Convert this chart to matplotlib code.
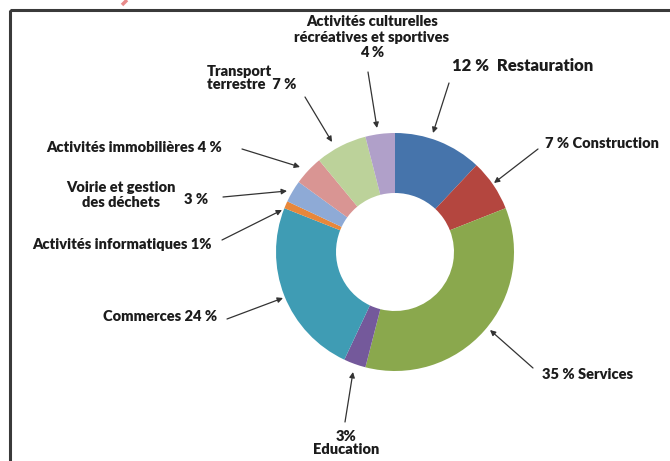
import matplotlib
matplotlib.use("Agg")
import matplotlib.pyplot as plt
from matplotlib.patches import Rectangle

plt.rcParams['font.family'] = ['Lato', 'DejaVu Sans']

# sectors, clockwise from 12 o'clock
sectors = ['Restauration', 'Construction', 'Services', 'Education', 'Commerces',
           'Activités informatiques', 'Voirie et gestion des déchets',
           'Activités immobilières', 'Transport terrestre',
           'Activités culturelles récréatives et sportives']
shares = [12, 7, 35, 3, 24, 1, 3, 4, 7, 4]
colors = ['#4674ab', '#b4463f', '#8aa84d', '#74599b', '#3f9cb4',
          '#e8873a', '#8eaad6', '#d99593', '#bcd29a', '#b0a0c9']

# label text, text anchor (pixel), arrow tail, arrow head, alignment, size, line spacing
labels = [
    ('12 %  Restauration', (452, 66), (449, 83), (433, 133), 'left', 12, 1.0),
    ('7 % Construction', (545, 143), (538, 149), (494, 183), 'left', 10.5, 1.0),
    ('35 % Services', (542, 374), (533, 368), (490, 330), 'left', 10.5, 1.0),
    ('3%\nEducation', (346, 443), (345, 422), (353, 372), 'center', 10.5, 1.0),
    ('Commerces 24 %', (217, 316), (227, 319), (283, 298), 'right', 10.5, 1.0),
    ('Activités informatiques 1%', (212, 244), (222, 240), (282, 210), 'right', 10.5, 1.0),
    ('3 %', (208, 199), (223, 197), (287, 191), 'right', 10.5, 1.0),
    ('Activités immobilières 4 %', (222, 147), (242, 149), (300, 167), 'right', 10.5, 1.0),
    ('Transport\nterrestre  7 %', (207, 78), (305, 97), (332, 142), 'left', 10.5, 1.0),
    ('Activités culturelles\nrécréatives et sportives\n4 %', (372, 37), (368, 72), (377, 128), 'center', 10.5, 1.2),
]

fig = plt.figure(figsize=(6.7, 4.61), dpi=100)
ax = fig.add_axes([0, 0, 1, 1])

# y axis is inverted (pixel coords), so counterclock=True draws clockwise on screen
ax.pie(shares, colors=colors, center=(395, 252), radius=119,
       startangle=-90, counterclock=True,
       wedgeprops=dict(width=60, linewidth=0))

ax.set_xlim(0, 670)
ax.set_ylim(461, 0)
ax.set_aspect('auto')
ax.axis('off')

# frame
ax.add_patch(Rectangle((10, 10), 700, 500, fill=False, lw=2.2, edgecolor='#3a3a3a'))
ax.plot([122, 127], [5, 0], color='#e88a8a', lw=2.5, solid_capstyle='butt')

for text, xy_text, tail, head, ha, fs, ls in labels:
    ax.text(xy_text[0], xy_text[1], text, ha=ha, va='center', fontsize=fs,
            fontweight='heavy', color='#1c1c1c', linespacing=ls,
            multialignment='center' if '\n' in text and ha != 'left' else 'left')
    ax.annotate('', xy=head, xytext=tail,
                arrowprops=dict(arrowstyle='-|>', color='#333333', lw=0.9,
                                mutation_scale=8, shrinkA=0, shrinkB=0))

ax.text(121, 195, 'Voirie et gestion\ndes déchets', ha='center', va='center',
        fontsize=10.5, fontweight='heavy', color='#1c1c1c', linespacing=1.15)

fig.savefig('out.png', dpi=100)
